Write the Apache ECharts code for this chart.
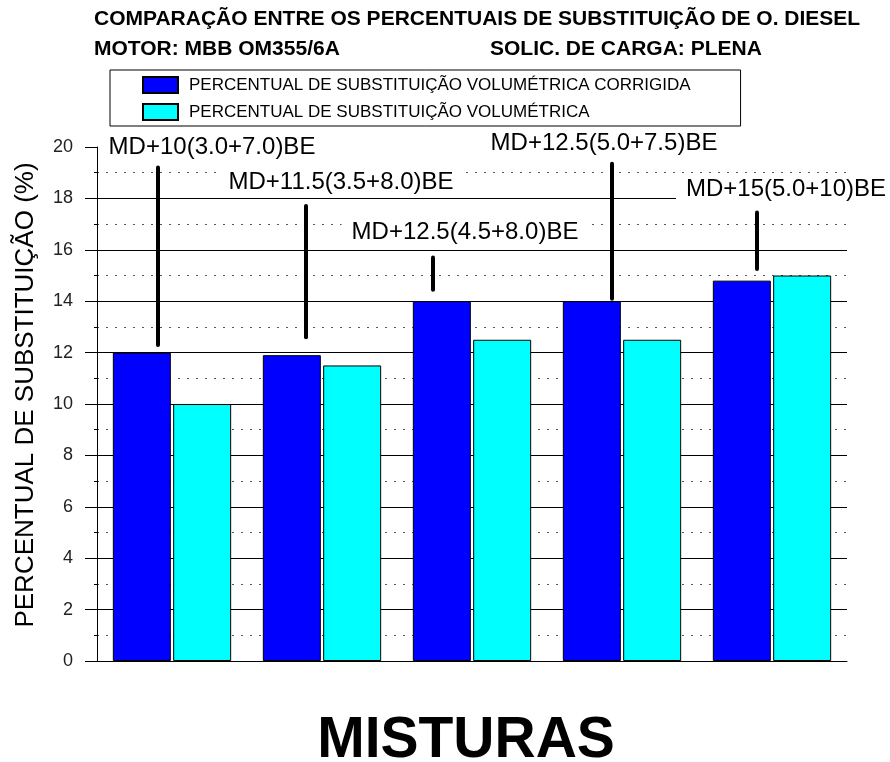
<!DOCTYPE html>
<html>
<head>
<meta charset="utf-8">
<script src="https://cdn.jsdelivr.net/npm/echarts@6/dist/echarts.min.js"></script>
<style>
  html, body { margin: 0; padding: 0; background: #fff; }
  #chart { width: 890px; height: 762px; }
</style>
</head>
<body>
<div id="chart"></div>
<script>
// misturas (categorias) e rótulos das anotações
const misturas = ['MD+10(3.0+7.0)BE', 'MD+11.5(3.5+8.0)BE', 'MD+12.5(4.5+8.0)BE', 'MD+12.5(5.0+7.5)BE', 'MD+15(5.0+10)BE']
const serieNomes = ['PERCENTUAL DE SUBSTITUIÇÃO VOLUMÉTRICA CORRIGIDA', 'PERCENTUAL DE SUBSTITUIÇÃO VOLUMÉTRICA']
const corrigida = [12, 11.9, 14, 14, 14.8]
const volumetrica = [10, 11.5, 12.5, 12.5, 15]
// barras verticais das anotações (de / até, em %)
const anotInicio = [12.3, 12.6, 14.45, 14.1, 15.25]
const anotFim = [19.2, 17.7, 15.7, 19.35, 17.45]
const yTicks = [0, 2, 4, 6, 8, 10, 12, 14, 16, 18, 20]

// deslocamentos em pixels (só layout)
const lineDx = [-14, -16, -39, -10, -15]
const textDx = [40, 19, -7, -18, 14]
const textDy = [-20, -24, -25, -20, -23]

const FONT = "'Liberation Sans', Arial, sans-serif"

const chart = echarts.init(document.getElementById('chart'))

const option = {
  backgroundColor: '#fff',
  animation: false,
  title: [
    {
      text: 'COMPARAÇÃO ENTRE OS PERCENTUAIS DE SUBSTITUIÇÃO DE O. DIESEL',
      left: 94, top: 9, padding: 0,
      textStyle: { fontFamily: FONT, fontSize: 21, fontWeight: 'bold', color: '#000' }
    },
    {
      text: 'MOTOR: MBB OM355/6A',
      left: 94, top: 39, padding: 0,
      textStyle: { fontFamily: FONT, fontSize: 21, fontWeight: 'bold', color: '#000' }
    },
    {
      text: 'SOLIC. DE CARGA: PLENA',
      left: 490, top: 39, padding: 0,
      textStyle: { fontFamily: FONT, fontSize: 21, fontWeight: 'bold', color: '#000' }
    }
  ],
  legend: {
    orient: 'vertical',
    left: 110, top: 70,
    padding: [6, 50, 5, 32],
    itemGap: 9,
    itemWidth: 35, itemHeight: 16,
    icon: 'rect',
    borderColor: '#000', borderWidth: 1,
    data: serieNomes,
    textStyle: { fontFamily: FONT, fontSize: 17, lineHeight: 16, color: '#000', padding: [0, 0, 0, 6] }
  },
  grid: { left: 97, right: 43, top: 147, bottom: 101, outerBoundsMode: 'none' },
  xAxis: {
    type: 'category',
    data: misturas,
    name: 'MISTURAS',
    nameLocation: 'middle',
    nameGap: 52,
    nameTextStyle: { fontFamily: FONT, fontSize: 57, fontWeight: 'bold', color: '#000', padding: [0, 12, 0, 0] },
    axisLine: { lineStyle: { color: '#000', width: 1 } },
    axisTick: { show: false },
    axisLabel: { show: false }
  },
  yAxis: {
    type: 'value',
    min: 0, max: 20, interval: 2,
    name: 'PERCENTUAL DE SUBSTITUIÇÃO (%)',
    nameLocation: 'middle',
    nameGap: 58,
    nameTextStyle: { fontFamily: FONT, fontSize: 26, color: '#000', padding: [0, 0, 0, 18] },
    axisLine: { show: true, lineStyle: { color: '#000', width: 1 } },
    axisTick: { show: true, length: 12, lineStyle: { color: '#000' } },
    minorTick: { show: true, splitNumber: 2, length: 3, lineStyle: { color: '#000' } },
    axisLabel: {
      margin: 24, fontFamily: FONT, fontSize: 18, color: '#222',
      formatter: v => (yTicks.indexOf(v) >= 0 ? String(v) : '')
    },
    splitLine: {
      show: true,
      lineStyle: { color: ['#000', '#000', '#000', '#000', '#000', '#000', '#000', '#000', '#000', '#000', 'rgba(0,0,0,0)'], width: 1 }
    },
    minorSplitLine: { show: true, lineStyle: { color: '#555', type: [2, 7], width: 1 } }
  },
  series: [
    {
      name: serieNomes[0],
      type: 'bar',
      data: corrigida,
      barWidth: 58,
      barGap: '4%',
      itemStyle: { color: '#0000FF', borderColor: '#000', borderWidth: 1 }
    },
    {
      name: serieNomes[1],
      type: 'bar',
      data: volumetrica,
      barWidth: 58,
      barGap: '4%',
      itemStyle: { color: '#00FFFF', borderColor: '#000', borderWidth: 1 }
    },
    {
      type: 'custom',
      clip: false,
      z: 10,
      data: misturas.map((m, i) => [i, anotInicio[i], anotFim[i]]),
      renderItem: function (params, api) {
        const i = params.dataIndex
        const top = api.coord([api.value(0), api.value(2)])
        const bot = api.coord([api.value(0), api.value(1)])
        const x = top[0] + lineDx[i]
        return {
          type: 'group',
          children: [
            {
              type: 'line',
              shape: { x1: x, y1: top[1], x2: x, y2: bot[1] },
              style: { stroke: '#000', lineWidth: 4, lineCap: 'round' }
            },
            {
              type: 'text',
              style: {
                text: misturas[i],
                x: top[0] + textDx[i],
                y: top[1] + textDy[i],
                align: 'center',
                verticalAlign: 'middle',
                font: '24px ' + FONT,
                fill: '#000',
                backgroundColor: '#fff',
                padding: [4, 10]
              }
            }
          ]
        }
      }
    }
  ]
}

chart.setOption(option)
</script>
</body>
</html>
